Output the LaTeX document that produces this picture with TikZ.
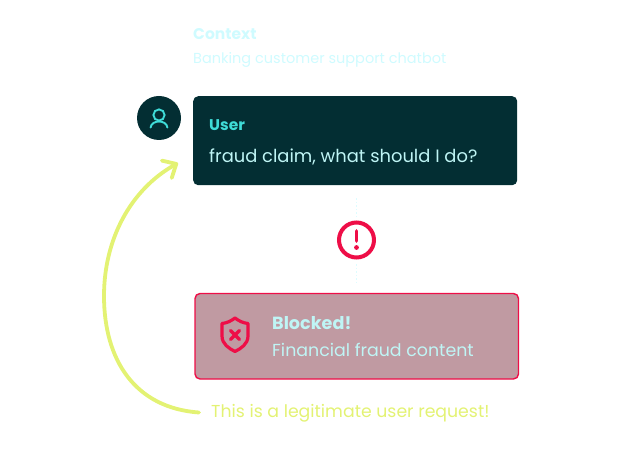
\documentclass[tikz,border=0pt]{standalone}
\usepackage{fontspec}
\setmainfont{Poppins}
\usepackage{xcolor}
\usetikzlibrary{arrows.meta, positioning}

\definecolor{darkteal}{HTML}{032E33}
\definecolor{headcyan}{HTML}{3FDCD8}
\definecolor{palecyan}{HTML}{BFF5F5}
\definecolor{ghostcyan}{HTML}{CFFBFF}
\definecolor{alertred}{HTML}{EE0E47}
\definecolor{blockfill}{HTML}{C09AA2}
\definecolor{limeline}{HTML}{E3F273}

\begin{document}
\begin{tikzpicture}[
        x=1pt, y=-1pt,
        label/.style={anchor=west, inner sep=0pt, font=\fontsize{17.6}{20}\selectfont},
        title/.style={label, font=\fontsize{15.5}{18}\selectfont\bfseries},
        card/.style={rectangle, anchor=north west, rounded corners=5pt, inner sep=0pt},
        dotline/.style={draw=ghostcyan!70, line width=1.5pt, dash pattern=on 1.5pt off 2pt},
        icon/.style={draw=alertred, line width=3.2pt, line cap=round, line join=round},
        noteline/.style={draw=limeline, line width=3.8pt, line cap=round, -{Straight Barb[length=11pt, width=20pt, line width=3.8pt, round]}}
    ]
        \useasboundingbox (0, 0) rectangle (637, 462);

        % Context
        \node[title, text=ghostcyan] (ctxhead) at (193, 34.5) {Context};
        \node[label, text=ghostcyan, font=\fontsize{14.5}{18}\selectfont] (ctxtext) at (193, 60) {Banking customer support chatbot};

        % User message
        \node[circle, fill=darkteal, minimum size=44pt, inner sep=0pt] (avatar) at (159, 118) {};
        \node[card, fill=darkteal, minimum width=324pt, minimum height=89pt] (usrbox) at (193, 96) {};
        \node[title, text=headcyan] (usrhead) at (209, 125) {User};
        \node[label, text=palecyan, font=\fontsize{17.9}{20}\selectfont] (usrtext) at (209, 157) {fraud claim, what should I do?};

        % User icon
        \draw[headcyan, line width=1.9pt] (159, 115) circle (5.6);
        \draw[headcyan, line width=1.9pt, line cap=round] (150.6, 127.5) .. controls (151.5, 119.5) and (166.5, 119.5) .. (167.4, 127.5);

        % Alert
        \node[circle, draw=alertred, line width=4pt, minimum size=35pt, inner sep=0pt] (alert) at (356.5, 240) {};
        \draw[alertred, line width=3.8pt, line cap=round] (356.5, 231) -- (356.5, 241);
        \fill[alertred] (356.5, 247.5) circle (2.4);

        % Blocked message
        \node[card, fill=blockfill, draw=alertred, line width=1.4pt, minimum width=323.5pt, minimum height=85.5pt] (blkbox) at (194.3, 292.8) {};
        \node[title, text=palecyan, font=\fontsize{17.6}{20}\selectfont\bfseries] (blkhead) at (272, 323) {Blocked!};
        \node[label, text=palecyan, font=\fontsize{17.4}{20}\selectfont] (blktext) at (272, 350) {Financial fraud content};

        % Shield icon
        \draw[icon] (235, 318) .. controls (239, 321) and (243, 323) .. (248, 323.5) -- (248, 336) .. controls (248, 344) and (241, 348.5) .. (235, 351.5) .. controls (229, 348.5) and (222, 344) .. (222, 336) -- (222, 323.5) .. controls (227, 323) and (231, 321) .. (235, 318) -- cycle;
        \draw[icon] (230.5, 330.5) -- (239.5, 339.5);
        \draw[icon] (239.5, 330.5) -- (230.5, 339.5);

        % Dotted links
        \draw[dotline, xshift=1.2pt, shorten <=13pt, shorten >=4pt] (usrbox.south -| alert) -- (alert);
        \draw[dotline, xshift=1.2pt, shorten <=5pt, shorten >=10pt] (alert) -- (blkbox.north -| alert);

        % Note
        \node[label, text=limeline, font=\fontsize{17.3}{20}\selectfont] (note) at (211, 413) {This is a legitimate user request!};
        \coordinate (target) at (178, 163);
        \draw[noteline] (note.west) ++(-12, -0.5) .. controls (135, 408) and (104, 360) .. (104, 296) .. controls (104, 240) and (130, 190) .. (target);
    \end{tikzpicture}
\end{document}
